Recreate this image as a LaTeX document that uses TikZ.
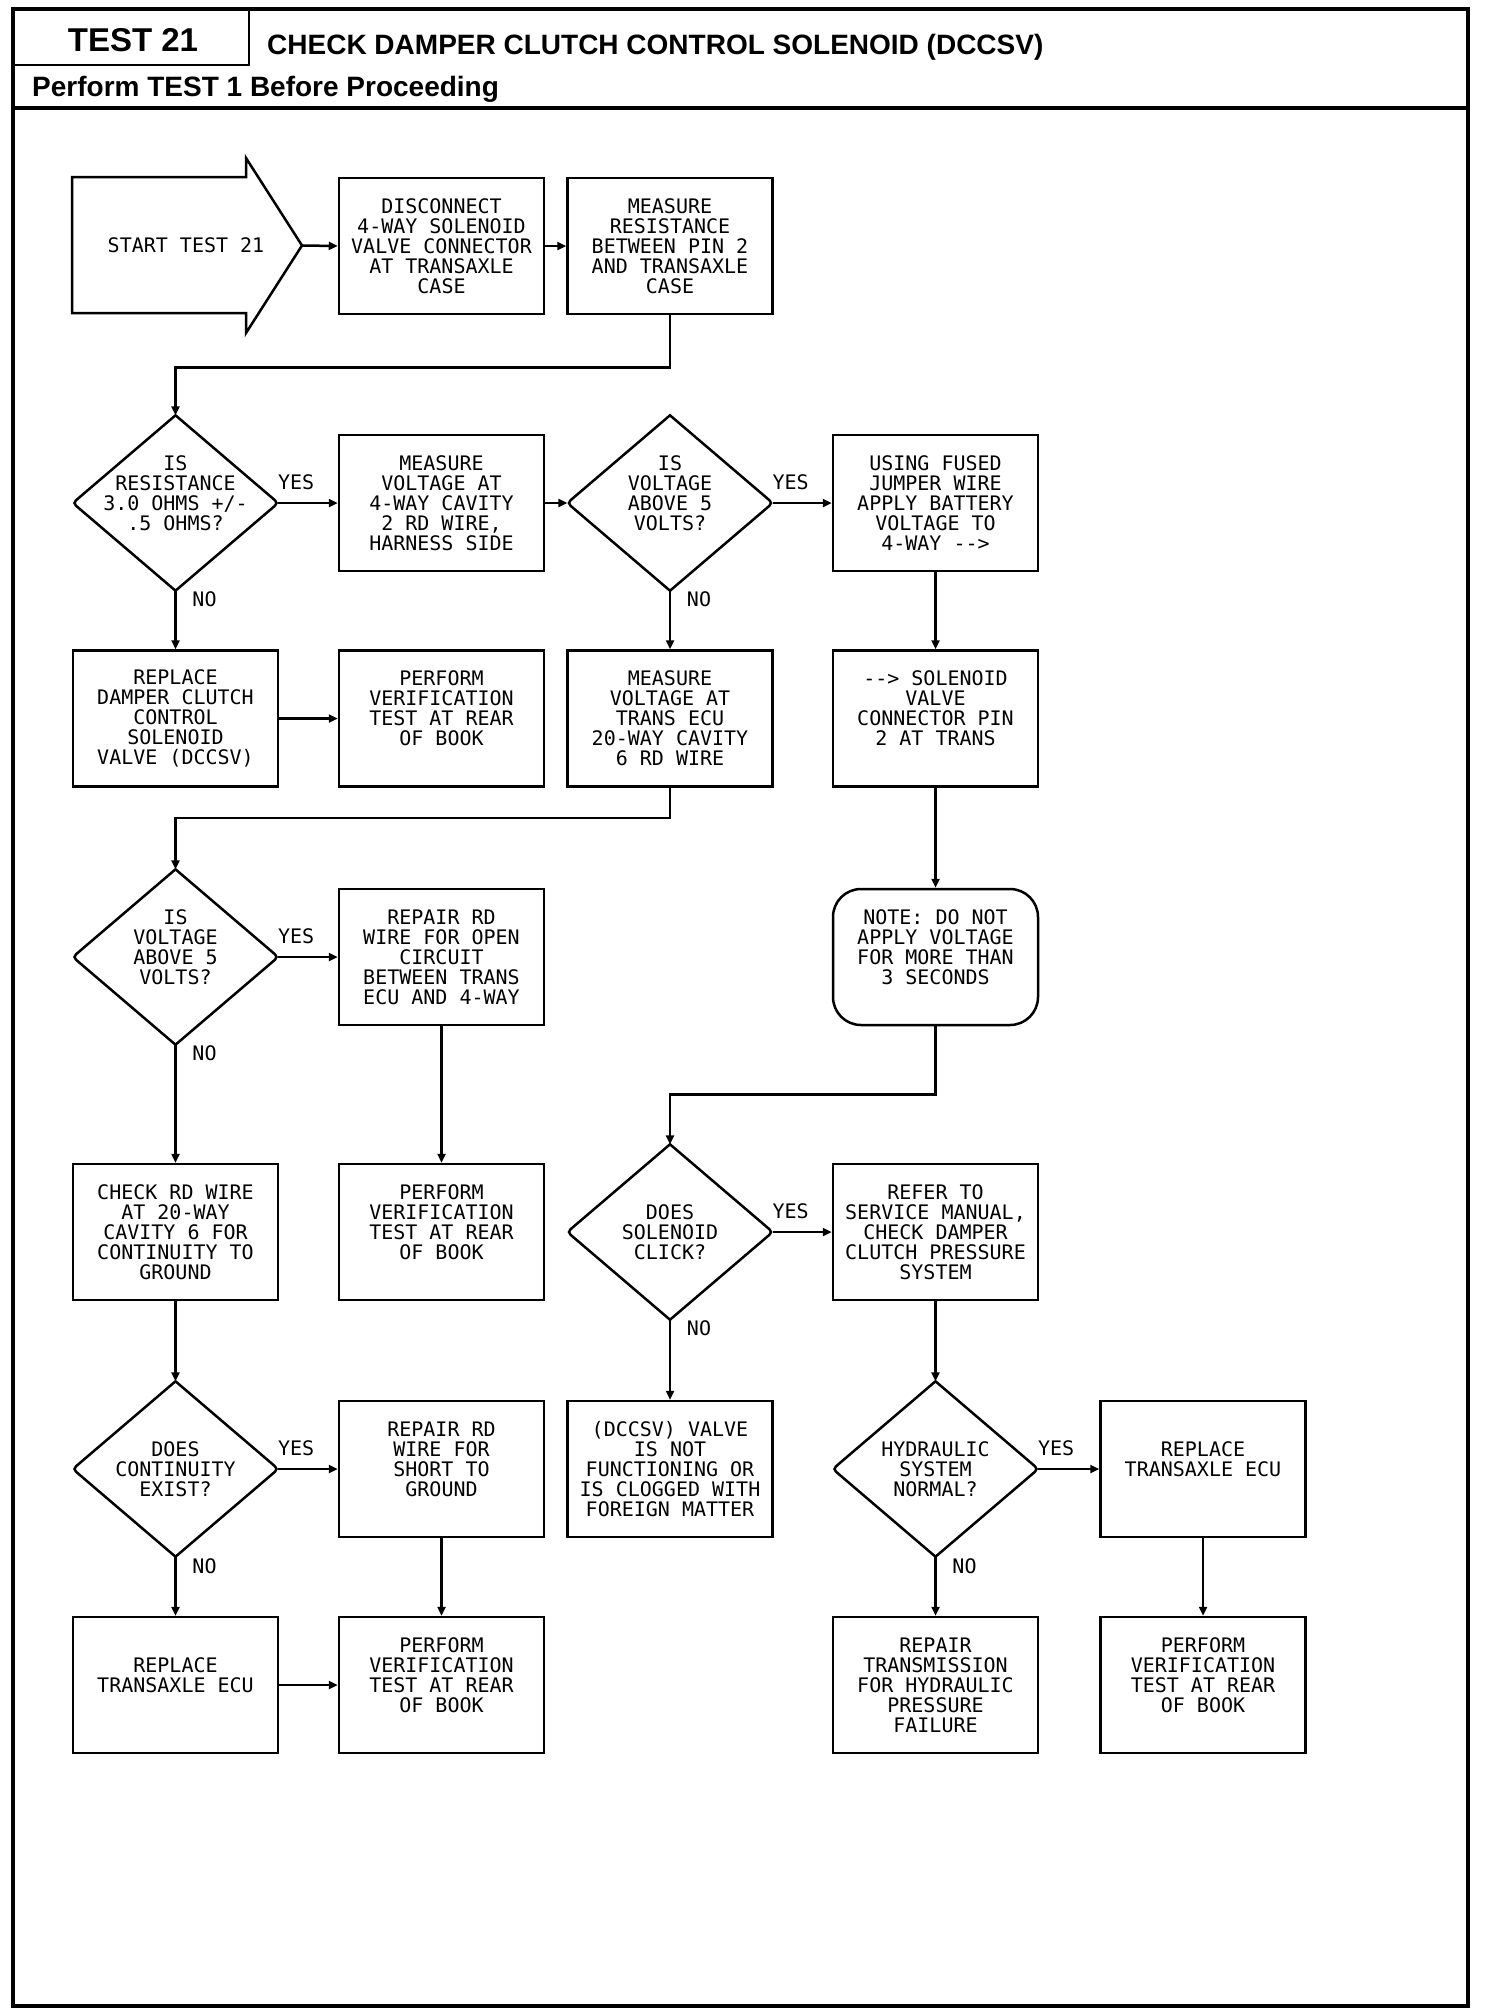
\documentclass[tikz,border=0pt]{standalone}
\usepackage{fontspec}
\setmainfont{Liberation Sans}
\newfontfamily\plotfont{DejaVu Sans Mono}
\usetikzlibrary{arrows.meta,calc}
\newcommand\bl{\rule{0pt}{14.5pt}}
\newcommand\rdia[1]{%
  \draw[thk] (#1.north) -- ($(#1.east)!9pt!(#1.north)$) .. controls (#1.east) .. ($(#1.east)!9pt!(#1.south)$) -- (#1.south) -- ($(#1.west)!9pt!(#1.south)$) .. controls (#1.west) .. ($(#1.west)!9pt!(#1.north)$) -- cycle;}
\begin{document}
\begin{tikzpicture}[x=1pt,y=-1pt,
  thk/.style={line width=2.5pt, line join=miter},
  ptext/.style={font=\plotfont\fontsize{20}{20}\selectfont},
  box/.style={draw, thk, ptext, minimum width=205pt, minimum height=136pt, inner sep=0pt, align=center},
  notebox/.style={box, rounded corners=28pt},
  dia/.style={ptext, minimum width=205pt, minimum height=175pt, inner sep=0pt, align=center},
  lbl/.style={ptext, inner sep=0pt},
  conn/.style={line width=2.5pt, -{Triangle[length=9pt,width=8pt]}},
]
\useasboundingbox (0,0) rectangle (1504,2014);
% frame and header
\draw[line width=3.5pt] (13,9) rectangle (1468,2006);
\draw[line width=3.5pt] (13,108) -- (1468,108);
\draw[line width=2pt] (13,9) rectangle (249,65);
\node[font=\bfseries\fontsize{33}{33}\selectfont, inner sep=0pt] (test) at (133,40) {TEST 21};
\node[font=\bfseries\fontsize{28}{28}\selectfont, inner sep=0pt, anchor=base west] (title) at (267,54) {CHECK DAMPER CLUTCH CONTROL SOLENOID (DCCSV)};
\node[font=\bfseries\fontsize{28}{28}\selectfont, inner sep=0pt, anchor=base west] (perf) at (32,96) {Perform TEST 1 Before Proceeding};

% start arrow
\draw[thk] (72,177) -- (246,177) -- (246,158) -- (302,245.5) -- (246,333) -- (246,313) -- (72,313) -- cycle;
\coordinate (tip) at (302,245.5);
\node[lbl] (start) at (186,245) {START TEST 21};

% row 1
\node[box] (b1) at (441.5,246) {DISCONNECT\\4-WAY SOLENOID\\VALVE CONNECTOR\\AT TRANSAXLE\\CASE};
\node[box] (b2) at (670,246) {MEASURE\\RESISTANCE\\BETWEEN PIN 2\\AND TRANSAXLE\\CASE};
% row 2
\node[dia] (d1) at (175.5,503) {IS\\RESISTANCE\\3.0 OHMS +/-\\.5 OHMS?\\\bl};
\node[box] (b3) at (441.5,503) {MEASURE\\VOLTAGE AT\\4-WAY CAVITY\\2 RD WIRE,\\HARNESS SIDE};
\node[dia] (d2) at (670,503) {IS\\VOLTAGE\\ABOVE 5\\VOLTS?\\\bl};
\node[box] (b4) at (935.5,503) {USING FUSED\\JUMPER WIRE\\APPLY BATTERY\\VOLTAGE TO\\4-WAY -{}->};
% row 3
\node[box] (b5) at (175.5,718.5) {REPLACE\\DAMPER CLUTCH\\CONTROL\\SOLENOID\\VALVE (DCCSV)};
\node[box] (b6) at (441.5,718.5) {PERFORM\\VERIFICATION\\TEST AT REAR\\OF BOOK\\\bl};
\node[box] (b7) at (670,718.5) {MEASURE\\VOLTAGE AT\\TRANS ECU\\20-WAY CAVITY\\6 RD WIRE};
\node[box] (b8) at (935.5,718.5) {-{}-> SOLENOID\\VALVE\\CONNECTOR PIN\\2 AT TRANS\\\bl};
% row 4
\node[dia] (d3) at (175.5,957) {IS\\VOLTAGE\\ABOVE 5\\VOLTS?\\\bl};
\node[box] (b9) at (441.5,957) {REPAIR RD\\WIRE FOR OPEN\\CIRCUIT\\BETWEEN TRANS\\ECU AND 4-WAY};
\node[notebox] (n1) at (935.5,957) {NOTE: DO NOT\\APPLY VOLTAGE\\FOR MORE THAN\\3 SECONDS\\\bl};
% row 5
\node[box] (b10) at (175.5,1232) {CHECK RD WIRE\\AT 20-WAY\\CAVITY 6 FOR\\CONTINUITY TO\\GROUND};
\node[box] (b11) at (441.5,1232) {PERFORM\\VERIFICATION\\TEST AT REAR\\OF BOOK\\\bl};
\node[dia] (d4) at (670,1232) {DOES\\SOLENOID\\CLICK?};
\node[box] (b12) at (935.5,1232) {REFER TO\\SERVICE MANUAL,\\CHECK DAMPER\\CLUTCH PRESSURE\\SYSTEM};
% row 6
\node[dia] (d5) at (175.5,1469) {DOES\\CONTINUITY\\EXIST?};
\node[box] (b13) at (441.5,1469) {REPAIR RD\\WIRE FOR\\SHORT TO\\GROUND\\\bl};
\node[box] (b14) at (670,1469) {(DCCSV) VALVE\\IS NOT\\FUNCTIONING OR\\IS CLOGGED WITH\\FOREIGN MATTER};
\node[dia] (d6) at (935.5,1469) {HYDRAULIC\\SYSTEM\\NORMAL?};
\node[box] (b15) at (1203,1469) {\bl\\REPLACE\\TRANSAXLE ECU\\\bl\\\bl};
% row 7
\node[box] (b16) at (175.5,1685) {\bl\\REPLACE\\TRANSAXLE ECU\\\bl\\\bl};
\node[box] (b17) at (441.5,1685) {PERFORM\\VERIFICATION\\TEST AT REAR\\OF BOOK\\\bl};
\node[box] (b18) at (935.5,1685) {REPAIR\\TRANSMISSION\\FOR HYDRAULIC\\PRESSURE\\FAILURE};
\node[box] (b19) at (1203,1685) {PERFORM\\VERIFICATION\\TEST AT REAR\\OF BOOK\\\bl};

% diamond outlines
\rdia{d1}\rdia{d2}\rdia{d3}\rdia{d4}\rdia{d5}\rdia{d6}

% connectors
\draw[conn] (tip) -- (b1.west);
\draw[conn] (b1.east) -- (b2.west);
\draw[conn] (b2.south) -- ++(0,52) -| (d1.north);
\draw[conn] (d1.east) -- (b3.west);
\draw[conn] (b3.east) -- (d2.west);
\draw[conn] (d2.east) -- (b4.west);
\draw[conn] (d1.south) -- (b5.north);
\draw[conn] (d2.south) -- (b7.north);
\draw[conn] (b4.south) -- (b8.north);
\draw[conn] (b5.east) -- (b6.west);
\draw[conn] (b7.south) -- ++(0,30) -| (d3.north);
\draw[conn] (b8.south) -- (n1.north);
\draw[conn] (d3.east) -- (b9.west);
\draw[conn] (d3.south) -- (b10.north);
\draw[conn] (b9.south) -- (b11.north);
\draw[conn] (n1.south) -- ++(0,68) -| (d4.north);
\draw[conn] (d4.east) -- (b12.west);
\draw[conn] (d4.south) -- (b14.north);
\draw[conn] (b12.south) -- (d6.north);
\draw[conn] (b10.south) -- (d5.north);
\draw[conn] (d5.east) -- (b13.west);
\draw[conn] (d5.south) -- (b16.north);
\draw[conn] (b13.south) -- (b17.north);
\draw[conn] (b16.east) -- (b17.west);
\draw[conn] (d6.east) -- (b15.west);
\draw[conn] (d6.south) -- (b18.north);
\draw[conn] (b15.south) -- (b19.north);

% labels
\node[lbl] (y1) at ($(d1.east)+(18,-21)$) {YES};
\node[lbl] (y2) at ($(d2.east)+(18,-21)$) {YES};
\node[lbl] (y3) at ($(d3.east)+(18,-21)$) {YES};
\node[lbl] (y4) at ($(d4.east)+(18,-21)$) {YES};
\node[lbl] (y5) at ($(d5.east)+(18,-21)$) {YES};
\node[lbl] (y6) at ($(d6.east)+(18,-21)$) {YES};
\node[lbl] (o1) at ($(d1.south)+(29,9)$) {NO};
\node[lbl] (o2) at ($(d2.south)+(29,9)$) {NO};
\node[lbl] (o3) at ($(d3.south)+(29,9)$) {NO};
\node[lbl] (o4) at ($(d4.south)+(29,9)$) {NO};
\node[lbl] (o5) at ($(d5.south)+(29,9)$) {NO};
\node[lbl] (o6) at ($(d6.south)+(29,9)$) {NO};
\end{tikzpicture}
\end{document}
